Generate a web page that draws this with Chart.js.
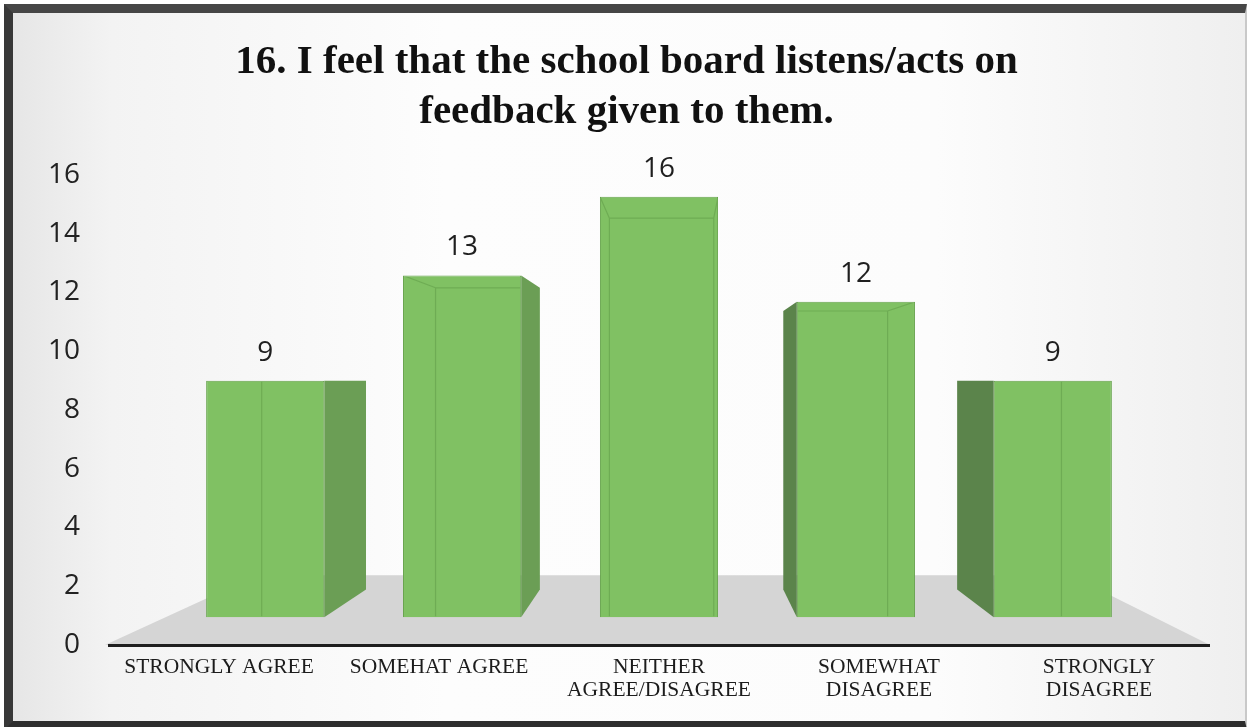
<!DOCTYPE html>
<html>
<head>
<meta charset="utf-8">
<title>Survey Q16</title>
<script src="https://cdn.jsdelivr.net/npm/chart.js@4.4.1/dist/chart.umd.min.js"></script>
<style>
    html, body { margin: 0; padding: 0; background: #fff; overflow: hidden; }
    #wrap { position: relative; width: 1253px; height: 727px; }
    #frame {
        position: absolute; left: 4px; top: 4px; right: 6px; bottom: -3px;
        box-sizing: border-box;
        border-left: 9px solid #383838;
        border-top: 9px solid #464646;
        border-right: 2px solid #c9c9c9;
        border-bottom: 9px solid #2e2e2e;
        background: linear-gradient(90deg, #e6e6e6 0%, #f3f3f3 8%, #fdfdfd 35%, #fcfcfc 75%, #efefef 100%);
    }
    #chart { position: absolute; left: 0; top: 0; }
</style>
</head>
<body>
<div id="wrap">
    <div id="frame"></div>
    <canvas id="chart" width="1253" height="727"></canvas>
</div>
<script>
(function () {
    'use strict';

    var TITLE = ['16. I feel that the school board listens/acts on', 'feedback given to them.'];
    var CATEGORIES = [
        ['STRONGLY AGREE'],
        ['SOMEHAT AGREE'],
        ['NEITHER', 'AGREE/DISAGREE'],
        ['SOMEWHAT', 'DISAGREE'],
        ['STRONGLY', 'DISAGREE']
    ];
    var RESPONSES = [9, 13, 16, 12, 9];
    var Y_TICKS = [0, 2, 4, 6, 8, 10, 12, 14, 16];

    // ── 3D look ──────────────────────────────────────────────────────────────
    // bar fronts sit on a plane a little in front of the axes, so they use
    // their own (hidden) scales that are the axis scales shrunk toward a centre
    var FRONT_SCALE  = 0.895;
    var FRONT_CENTER = { x: 2, y: 9 };     // in axis values
    var VANISH       = { x: 2.1, y: 9 };   // depth vanishing point, axis values
    var BAR_BACK     = 0.883;              // back face vs front face
    var FLOOR_BACK   = 0.736;              // floor back edge vs x axis line

    var FACE       = '#80c163';
    var FACE_EDGE  = '#66a34c';
    var RIGHT_WALL = '#6b9e55';
    var LEFT_WALL  = '#5b844b';
    var FLOOR      = '#d5d5d5';

    var DIGITS = '"Open Sans", sans-serif';
    var SERIF  = '"Liberation Serif", "Times New Roman", serif';

    function frontRange(center, lo, hi) {
        return { min: center + (lo - center) / FRONT_SCALE, max: center + (hi - center) / FRONT_SCALE };
    }
    var xFront = frontRange(FRONT_CENTER.x, -0.5, CATEGORIES.length - 0.5);
    var yFront = frontRange(FRONT_CENTER.y, Y_TICKS[0], Y_TICKS[Y_TICKS.length - 1]);

    // ── helpers ──────────────────────────────────────────────────────────────
    function vanishPx(chart) {
        return {
            x: chart.scales.x.getPixelForValue(VANISH.x),
            y: chart.scales.y.getPixelForValue(VANISH.y)
        };
    }

    function toward(v, p, k) {
        return { x: v.x + (p.x - v.x) * k, y: v.y + (p.y - v.y) * k };
    }

    function fillPoly(ctx, pts, color) {
        ctx.beginPath();
        ctx.moveTo(pts[0].x, pts[0].y);
        for (var i = 1; i < pts.length; i++) ctx.lineTo(pts[i].x, pts[i].y);
        ctx.closePath();
        ctx.fillStyle = color;
        ctx.fill();
    }

    function corners(bar) {
        var p = bar.getProps(['x', 'y', 'base', 'width'], true);
        var l = p.x - p.width / 2, r = p.x + p.width / 2;
        return {
            tl: { x: l, y: p.y }, tr: { x: r, y: p.y },
            bl: { x: l, y: p.base }, br: { x: r, y: p.base },
            x: p.x, l: l, r: r, top: p.y, bottom: p.base
        };
    }

    function backOf(v, f) {
        return {
            tl: toward(v, f.tl, BAR_BACK), tr: toward(v, f.tr, BAR_BACK),
            bl: toward(v, f.bl, BAR_BACK), br: toward(v, f.br, BAR_BACK)
        };
    }

    var box3d = {
        id: 'box3d',
        beforeDraw: function (chart) {
            // grey floor
            var ctx = chart.ctx, a = chart.chartArea, v = vanishPx(chart);
            var y0 = chart.scales.y.getPixelForValue(0);
            var fl = { x: a.left - 4, y: y0 }, fr = { x: a.right + 1, y: y0 };
            ctx.save();
            fillPoly(ctx, [fl, fr, toward(v, fr, FLOOR_BACK), toward(v, fl, FLOOR_BACK)], FLOOR);
            ctx.restore();
        },
        beforeDatasetsDraw: function (chart) {
            // side walls, drawn before the fronts so the fronts cover overlaps
            var ctx = chart.ctx, v = vanishPx(chart);
            ctx.save();
            chart.getDatasetMeta(0).data.forEach(function (bar) {
                var f = corners(bar), b = backOf(v, f);
                if (b.tl.x < f.tl.x) fillPoly(ctx, [f.tl, b.tl, b.bl, f.bl], LEFT_WALL);
                if (b.tr.x > f.tr.x) fillPoly(ctx, [f.tr, b.tr, b.br, f.br], RIGHT_WALL);
                if (b.tl.y < f.tl.y) fillPoly(ctx, [f.tl, f.tr, b.tr, b.tl], RIGHT_WALL);
            });
            ctx.restore();
        },
        afterDatasetsDraw: function (chart) {
            var ctx = chart.ctx, v = vanishPx(chart);
            ctx.save();
            chart.getDatasetMeta(0).data.forEach(function (bar, i) {
                var f = corners(bar), b = backOf(v, f);

                // back edges showing faintly through the front face
                ctx.save();
                ctx.beginPath();
                ctx.rect(f.l + 1, f.top + 1, f.r - f.l - 2, f.bottom - f.top - 2);
                ctx.clip();
                ctx.strokeStyle = 'rgba(70, 125, 50, 0.3)';
                ctx.lineWidth = 1.2;
                ctx.beginPath();
                ctx.moveTo(b.bl.x, f.bottom); ctx.lineTo(b.tl.x, b.tl.y);
                ctx.lineTo(b.tr.x, b.tr.y); ctx.lineTo(b.br.x, f.bottom);
                ctx.moveTo(f.tl.x, f.tl.y); ctx.lineTo(b.tl.x, b.tl.y);
                ctx.moveTo(f.tr.x, f.tr.y); ctx.lineTo(b.tr.x, b.tr.y);
                ctx.stroke();
                ctx.restore();

                // value above each bar
                ctx.fillStyle = '#1f1f1f';
                ctx.font = '28px ' + DIGITS;
                ctx.textAlign = 'center';
                ctx.textBaseline = 'middle';
                ctx.fillText(String(RESPONSES[i]), f.x, f.top - 28);
            });
            ctx.restore();
        }
    };

    // ── chart ────────────────────────────────────────────────────────────────
    new Chart(document.getElementById('chart'), {
        type: 'bar',
        data: {
            labels: CATEGORIES,
            datasets: [{
                data: RESPONSES.map(function (v, i) { return { x: i, y: v }; }),
                xAxisID: 'xBar',
                yAxisID: 'yBar',
                backgroundColor: FACE,
                borderColor: FACE_EDGE,
                borderWidth: 1,
                barPercentage: 0.6,
                categoryPercentage: 1
            }]
        },
        options: {
            responsive: false,
            animation: false,
            layout: { padding: 0 },
            plugins: {
                legend: { display: false },
                tooltip: { enabled: false },
                title: {
                    display: true,
                    text: TITLE,
                    color: '#111',
                    font: { family: SERIF, size: 41, weight: 'bold', lineHeight: 1.22 },
                    padding: { top: 37, bottom: 38 }
                }
            },
            scales: {
                x: {
                    type: 'category',
                    offset: true,
                    grid: { display: false, drawTicks: false },
                    border: { display: true, color: '#1e1e1e', width: 3 },
                    ticks: {
                        color: '#1c1c1c',
                        font: { family: SERIF, size: 21.5, lineHeight: 1.08 },
                        padding: 11,
                        maxRotation: 0,
                        autoSkip: false
                    },
                    afterFit: function (s) { s.height = 82; }
                },
                y: {
                    type: 'linear',
                    min: Y_TICKS[0],
                    max: Y_TICKS[Y_TICKS.length - 1],
                    afterBuildTicks: function (s) {
                        s.ticks = Y_TICKS.map(function (t) { return { value: t }; });
                    },
                    grid: { display: false, drawTicks: false },
                    border: { display: false },
                    ticks: {
                        color: '#222',
                        font: { family: DIGITS, size: 28 },
                        padding: 29
                    },
                    afterFit: function (s) { s.width = 109; }
                },
                xBar: {
                    type: 'linear',
                    display: false,
                    offset: false,
                    min: xFront.min,
                    max: xFront.max,
                    afterBuildTicks: function (s) {
                        s.ticks = RESPONSES.map(function (v, i) { return { value: i }; });
                    }
                },
                // sits on the right with no visible parts, just to keep a margin
                yBar: {
                    type: 'linear',
                    position: 'right',
                    min: yFront.min,
                    max: yFront.max,
                    grid: { display: false, drawTicks: false },
                    border: { display: false },
                    ticks: { display: false },
                    afterFit: function (s) { s.width = 44; }
                }
            }
        },
        plugins: [box3d]
    });
})();
</script>
</body>
</html>
